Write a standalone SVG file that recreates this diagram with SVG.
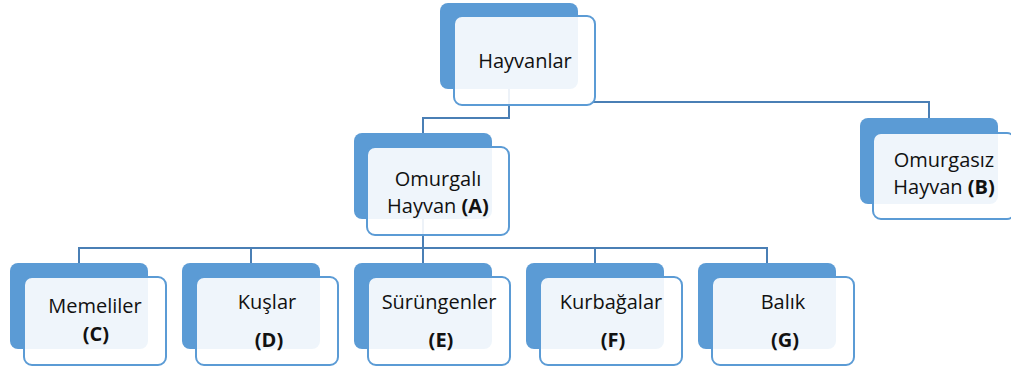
<svg xmlns="http://www.w3.org/2000/svg" width="1011" height="367" viewBox="0 0 1011 367">
<style>
.back{fill:#5b9bd5;}
.front{fill:#ffffff;fill-opacity:0.9;stroke:#5b9bd5;stroke-width:2;}
.conn{fill:none;stroke:#4a7fb5;stroke-width:2;}
text{font-family:"Open Sans","Liberation Sans",sans-serif;font-size:20px;fill:#111111;text-anchor:middle;}
.b{font-weight:bold;}
</style>
<rect width="1011" height="367" fill="#ffffff"/>
<g id="connectors">
<path class="conn" d="M509,89 V118 H423 V133"/>
<path class="conn" d="M590,102 H929 V118"/>
<path class="conn" d="M423,219 V248"/>
<path class="conn" d="M79,263 V248 H767 V263"/>
<path class="conn" d="M251,248 V263"/>
<path class="conn" d="M423,248 V263"/>
<path class="conn" d="M595,248 V263"/>
</g>
<g id="hayvanlar">
<rect class="back" x="440" y="3" width="138" height="86" rx="8"/>
<rect class="front" x="454" y="16" width="141" height="89" rx="8"/>
<text x="525" y="68">Hayvanlar</text>
</g>
<g id="omurgali">
<rect class="back" x="354" y="133" width="138" height="86" rx="8"/>
<rect class="front" x="367" y="147" width="142" height="88" rx="8"/>
<text x="438" y="186">Omurgalı</text>
<text x="438" y="213">Hayvan <tspan class="b">(A)</tspan></text>
</g>
<g id="omurgasiz">
<rect class="back" x="860" y="118" width="138" height="86" rx="8"/>
<rect class="front" x="873" y="133" width="142" height="86" rx="8"/>
<text x="944" y="167">Omurgasız</text>
<text x="944" y="194">Hayvan <tspan class="b">(B)</tspan></text>
</g>
<g id="memeliler">
<rect class="back" x="10" y="263" width="138" height="86" rx="8"/>
<rect class="front" x="24" y="277" width="142" height="88" rx="8"/>
<text x="95" y="313">Memeliler</text>
<text x="96" y="341" class="b">(C)</text>
</g>
<g id="kuslar">
<rect class="back" x="182" y="263" width="138" height="86" rx="8"/>
<rect class="front" x="196" y="277" width="142" height="88" rx="8"/>
<text x="267" y="309">Kuşlar</text>
<text x="269" y="347" class="b">(D)</text>
</g>
<g id="surungenler">
<rect class="back" x="354" y="263" width="138" height="86" rx="8"/>
<rect class="front" x="368" y="277" width="142" height="88" rx="8"/>
<text x="439" y="309">Sürüngenler</text>
<text x="441" y="347" class="b">(E)</text>
</g>
<g id="kurbagalar">
<rect class="back" x="526" y="263" width="138" height="86" rx="8"/>
<rect class="front" x="540" y="277" width="142" height="88" rx="8"/>
<text x="611" y="309">Kurbağalar</text>
<text x="613" y="347" class="b">(F)</text>
</g>
<g id="balik">
<rect class="back" x="698" y="263" width="138" height="86" rx="8"/>
<rect class="front" x="712" y="277" width="142" height="88" rx="8"/>
<text x="783" y="309">Balık</text>
<text x="785" y="347" class="b">(G)</text>
</g>
</svg>
